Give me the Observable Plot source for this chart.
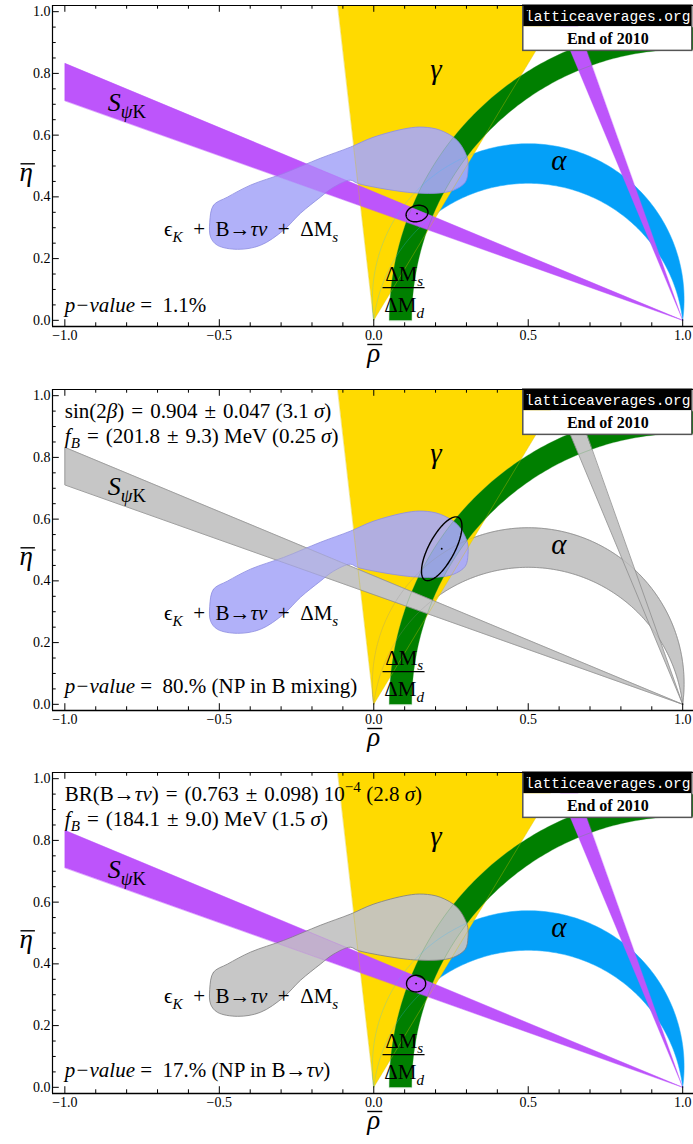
<!DOCTYPE html>
<html>
<head>
<meta charset="utf-8">
<script src="https://cdn.jsdelivr.net/npm/d3@7"></script>
<script src="https://cdn.jsdelivr.net/npm/@observablehq/plot@0.6"></script>
<style>
html,body{margin:0;padding:0;background:#fff;}
#chart svg{display:block;}
</style>
</head>
<body>
<div id="chart"></div>
<script>
// ---------------- data ----------------
const rhoDomain = [-1.04, 1.035];
const etaDomain = [-0.02, 1.02];
const xMajor = [-1, -0.5, 0, 0.5, 1];
const xMajorLabels = ["−1.0", "−0.5", "0.0", "0.5", "1.0"];
const xMinor = [-0.9, -0.8, -0.7, -0.6, -0.4, -0.3, -0.2, -0.1, 0.1, 0.2, 0.3, 0.4, 0.6, 0.7, 0.8, 0.9];
const yMajor = [0, 0.2, 0.4, 0.6, 0.8, 1.0];
const yMajorLabels = ["0.0", "0.2", "0.4", "0.6", "0.8", "1.0"];
const yMinor = [0.05, 0.1, 0.15, 0.25, 0.3, 0.35, 0.45, 0.5, 0.55, 0.65, 0.7, 0.75, 0.85, 0.9, 0.95];

// constraints (angles in degrees, radii in rho-eta units)
const sPsiKBeta = [19.6, 22.6];       // S_psiK band seen from (1,0)
const sPsiKBeta2 = [67.4, 70.4];      // second solution (90° - beta)
const gammaRange = [59.0, 96.5];      // gamma wedge from (0,0)
const rtRange = [0.877, 0.950];       // DeltaMs/DeltaMd circle around (1,0)
const alphaRange = [82.3, 96.8];      // alpha crescent

// epsilon_K + B->tau nu + DeltaMs region (rho, eta)
const blobOutline = [
  [-0.531, 0.318], [-0.519, 0.373], [-0.474, 0.399], [-0.399, 0.438], [-0.292, 0.476],
  [-0.173, 0.525], [-0.076, 0.561], [-0.002, 0.593], [0.108, 0.622], [0.160, 0.626],
  [0.215, 0.616], [0.270, 0.583], [0.302, 0.528], [0.305, 0.486], [0.296, 0.447],
  [0.257, 0.421], [0.205, 0.412], [0.150, 0.412], [0.108, 0.415], [0.021, 0.428],
  [-0.053, 0.444], [-0.076, 0.454], [-0.131, 0.431], [-0.173, 0.399], [-0.237, 0.347],
  [-0.292, 0.292], [-0.367, 0.243], [-0.441, 0.230], [-0.506, 0.243], [-0.528, 0.269]
];

// fit ellipses per panel
const ellipseCenters = [[0.140, 0.346], [0.220, 0.504], [0.137, 0.336]];
const ellipseAxes = [[0.036, 0.026], [0.115, 0.042], [0.031, 0.027]];
const ellipseTilt = [15, 62, 0];

// texts (\u2004 / \u2002 = wider spacing around operators, as in the original)
const infoLines = [
  [],
  ["sin(2*β*)\u2004=\u20040.904\u2004±\u20040.047 (3.1 *σ*)", "*f*_{*B*}\u2004=\u2004(201.8\u2004±\u20049.3) MeV (0.25 *σ*)"],
  ["BR(B→*τν*)\u2004=\u2004(0.763\u2004±\u20040.098) 10^{−4} (2.8 *σ*)", "*f*_{*B*}\u2004=\u2004(184.1\u2004±\u20049.0) MeV (1.5 *σ*)"]
];
const infoEta = [0.950, 0.870];
const pValues = [
  "*p−value* = \u00a01.1%",
  "*p−value* = \u00a080.% (NP in B mixing)",
  "*p−value* = \u00a017.% (NP in B→*τν*)"
];
const pValueEta = [0.048, 0.060, 0.054];
const labelText = ["*S*_{*ψ*K}", "*γ*", "*α*", "ϵ_{*K*}\u2002+\u2002B→*τν*\u2002+\u2002ΔM_{*s*}"];
const labelRho = [-0.861, 0.201, 0.599, -0.397];
const labelEta = [0.705, 0.812, 0.516, 0.294];
const fracText = ["ΔM_{*s*}", "ΔM_{*d*}"];
const fracRho = [0.0985, 0.030, 0.166];
const fracEta = [0.150, 0.106, 0.048];
const boxText = ["latticeaverages.org", "End of 2010"];
const boxRho = [0.484, 1.031];
const boxEta = [0.873, 0.951, 1.02];
const axisLabels = ["~*ρ*~", "~*η*~"];

// ---------------- styles ----------------
const PURPLE = "#bd55fb", BLUE = "#04a0f8", YELLOW = "#ffda00", GREEN = "#007f00";
const LAVENDER = "#a8a8f8", GREY = "#c6c6c6", GREY_EDGE = "#8e8e8e";
const SERIF = "'Liberation Serif','Times New Roman',Times,serif";
const MONO = "'Liberation Mono','Courier New',monospace";
const panelStyles = [
  {s: PURPLE, sEdge: PURPLE, a: BLUE, aEdge: BLUE, w: 0.3, blob: LAVENDER, blobOp: 0.9, blobEdge: "#8d8de0", sOver: 0.42},
  {s: GREY, sEdge: GREY_EDGE, a: GREY, aEdge: GREY_EDGE, w: 0.8, blob: LAVENDER, blobOp: 0.9, blobEdge: "#8d8de0", sOver: 0.35},
  {s: PURPLE, sEdge: PURPLE, a: BLUE, aEdge: BLUE, w: 0.3, blob: "#c4c4c4", blobOp: 0.94, blobEdge: "#7e7e7e", sOver: 0.12}
];
const panelHeights = [383, 384, 377];
const panelTops = [5, 6, 5];

// ---------------- geometry helpers ----------------
const rad = d => d * Math.PI / 180;
function rayPoint(apex, angle, key, value) {
  const dx = Math.cos(rad(angle)), dy = Math.sin(rad(angle));
  const t = key === "rho" ? (value - apex[0]) / dx : (value - apex[1]) / dy;
  return [apex[0] + t * dx, apex[1] + t * dy];
}
function arc(center, r, a0, a1, n = 120) {
  return d3.range(n + 1).map(i => {
    const a = rad(a0 + (a1 - a0) * i / n);
    return [center[0] + r * Math.cos(a), center[1] + r * Math.sin(a)];
  });
}
function alphaArc(alpha, n = 160) {
  const c = 0.5 / Math.tan(rad(alpha)), R = 0.5 / Math.sin(rad(alpha));
  let p0 = Math.atan2(-c, 0.5), p1 = Math.atan2(-c, -0.5);
  if (p1 < p0) p1 += 2 * Math.PI;
  return d3.range(n + 1).map(i => {
    const p = p0 + (p1 - p0) * i / n;
    return [0.5 + R * Math.cos(p), c + R * Math.sin(p)];
  });
}
const apexB = [1, 0], apexO = [0, 0];
const sPoly = [apexB, rayPoint(apexB, 180 - sPsiKBeta[1], "rho", -1), rayPoint(apexB, 180 - sPsiKBeta[0], "rho", -1)];
const sPoly2 = [apexB, rayPoint(apexB, 180 - sPsiKBeta2[0], "eta", etaDomain[1]), rayPoint(apexB, 180 - sPsiKBeta2[1], "eta", etaDomain[1])];
const gammaPoly = [apexO, rayPoint(apexO, gammaRange[0], "eta", etaDomain[1]), rayPoint(apexO, gammaRange[1], "eta", etaDomain[1])];
const rtPoly = arc(apexB, rtRange[1], 180, 86).concat(arc(apexB, rtRange[0], 86, 180));
const alphaPoly = alphaArc(alphaRange[0]).concat(alphaArc(alphaRange[1]).reverse());
function ellipsePoints(p) {
  const [cx, cy] = ellipseCenters[p], [a, b] = ellipseAxes[p], th = rad(ellipseTilt[p]);
  return d3.range(121).map(i => {
    const t = 2 * Math.PI * i / 120;
    return [cx + a * Math.cos(t) * Math.cos(th) - b * Math.sin(t) * Math.sin(th),
            cy + a * Math.cos(t) * Math.sin(th) + b * Math.sin(t) * Math.cos(th)];
  });
}
const poly = (pts, o) => Plot.line(pts, {x: d => d[0], y: d => d[1], curve: "linear-closed", ...o});

// ---------------- rich text (italic / sub / sup / overline) ----------------
const SVGNS = "http://www.w3.org/2000/svg";
function richify(svg) {
  svg.querySelectorAll("text").forEach(t => {
    const s = t.textContent;
    if (!/[*_^~]/.test(s)) return;
    const fs = parseFloat(getComputedStyle(t).fontSize) || 14;
    const runs = [];
    let italic = false, over = false, stack = [0], cur = "";
    const flush = () => { if (cur) runs.push({text: cur, italic, shift: stack[stack.length - 1]}); cur = ""; };
    for (let i = 0; i < s.length; i++) {
      const ch = s[i];
      if (ch === "*") { flush(); italic = !italic; }
      else if (ch === "~") { flush(); over = true; }
      else if ((ch === "_" || ch === "^") && s[i + 1] === "{") { flush(); stack.push(ch === "_" ? -1 : 1); i++; }
      else if (ch === "}" && stack.length > 1) { flush(); stack.pop(); }
      else cur += ch;
    }
    flush();
    t.textContent = "";
    let off = 0;
    runs.forEach(r => {
      const ts = document.createElementNS(SVGNS, "tspan");
      const target = r.shift === -1 ? 0.26 * fs : r.shift === 1 ? -0.42 * fs : 0;
      ts.setAttribute("dy", (target - off).toFixed(2));
      off = target;
      if (r.shift) ts.setAttribute("font-size", (0.72 * fs).toFixed(1));
      if (r.italic) ts.setAttribute("font-style", "italic");
      ts.textContent = r.text;
      t.appendChild(ts);
    });
    if (over) {
      const bb = t.getBBox();
      const m = t.getCTM();
      const yl = bb.y + 0.26 * fs;
      const ln = document.createElementNS(SVGNS, "line");
      ln.setAttribute("x1", (m.e + m.a * (bb.x + 1)).toFixed(1));
      ln.setAttribute("x2", (m.e + m.a * (bb.x + bb.width + 2)).toFixed(1));
      ln.setAttribute("y1", (m.f + m.d * yl).toFixed(1));
      ln.setAttribute("y2", (m.f + m.d * yl).toFixed(1));
      ln.setAttribute("stroke", "black");
      ln.setAttribute("stroke-width", "1.4");
      svg.appendChild(ln);
    }
  });
}

// ---------------- panels ----------------
function makePanel(p) {
  const st = panelStyles[p];
  const H = panelHeights[p], T = panelTops[p];
  const marks = [
    poly(alphaPoly, {fill: st.a, stroke: st.aEdge, strokeWidth: st.w, clip: true}),
    poly(gammaPoly, {fill: YELLOW, clip: true}),
    poly(rtPoly, {fill: GREEN, clip: true}),
    poly(sPoly, {fill: st.s, stroke: st.sEdge, strokeWidth: st.w, clip: true}),
    poly(sPoly2, {fill: st.s, stroke: st.sEdge, strokeWidth: st.w, clip: true}),
    Plot.line(blobOutline, {x: d => d[0], y: d => d[1], curve: "catmull-rom-closed",
      fill: st.blob, fillOpacity: st.blobOp, stroke: st.blobEdge, strokeWidth: 0.8}),
    // S_psiK band showing through the region
    poly(sPoly, {fill: st.s, fillOpacity: st.sOver, stroke: st.sEdge, strokeOpacity: 0.5, strokeWidth: 0.5, clip: true}),
    // faint region edges showing through (as in the original rendering)
    poly(alphaPoly, {stroke: p === 1 ? GREY_EDGE : "#39b6ff", strokeOpacity: 0.45, strokeWidth: 0.6, clip: true}),
    poly(gammaPoly, {stroke: "#d9c200", strokeOpacity: 0.6, strokeWidth: 0.6, clip: true}),
    poly(rtPoly, {stroke: "#4d9d4d", strokeOpacity: 0.5, strokeWidth: 0.6, clip: true}),
    // fit ellipse
    Plot.line(ellipsePoints(p), {x: d => d[0], y: d => d[1], curve: "linear-closed", stroke: "black", strokeWidth: 1.4}),
    Plot.dot([ellipseCenters[p]], {x: d => d[0], y: d => d[1], r: 0.9, fill: "black"}),
    // labels
    Plot.text([labelText[0]], {x: labelRho[0], y: labelEta[0], text: d => d, textAnchor: "start", fontSize: 26}),
    Plot.text([labelText[1]], {x: labelRho[1], y: labelEta[1], text: d => d, fontSize: 29}),
    Plot.text([labelText[2]], {x: labelRho[2], y: labelEta[2], text: d => d, fontSize: 29}),
    Plot.text([labelText[3]], {x: labelRho[3], y: labelEta[3], text: d => d, fontSize: 21}),
    Plot.text([fracText[0]], {x: fracRho[0], y: fracEta[0], text: d => d, fontSize: 21}),
    Plot.ruleY([fracEta[1]], {x1: fracRho[1], x2: fracRho[2], stroke: "black", strokeWidth: 1.1}),
    Plot.text([fracText[1]], {x: fracRho[0], y: fracEta[2], text: d => d, fontSize: 21}),
    Plot.text(infoLines[p], {x: -1, y: (d, i) => infoEta[i], text: d => d, textAnchor: "start", fontSize: 21}),
    Plot.text([pValues[p]], {x: -1, y: pValueEta[p], text: d => d, textAnchor: "start", fontSize: 21}),
    // latticeaverages box
    Plot.rect([0], {x1: boxRho[0], x2: boxRho[1], y1: boxEta[1], y2: boxEta[2], fill: "black"}),
    Plot.rect([0], {x1: boxRho[0], x2: boxRho[1], y1: boxEta[0], y2: boxEta[1], fill: "white"}),
    Plot.rect([0], {x1: boxRho[0], x2: boxRho[1], y1: boxEta[0], y2: boxEta[2], fill: "none", stroke: "#555", strokeWidth: 1.5}),
    Plot.text([boxText[0]], {x: (boxRho[0] + boxRho[1]) / 2, y: (boxEta[1] + boxEta[2]) / 2, text: d => d,
      fill: "white", fontFamily: MONO, fontSize: 14.5}),
    Plot.text([boxText[1]], {x: (boxRho[0] + boxRho[1]) / 2, y: (boxEta[0] + boxEta[1]) / 2, text: d => d,
      fontWeight: "bold", fontSize: 16}),
    // frame lines
    Plot.ruleX([rhoDomain[0]], {stroke: "black", strokeWidth: 1.2}),
    Plot.ruleY([etaDomain[0]], {stroke: "black", strokeWidth: 1.4}),
    Plot.ruleY([etaDomain[1]], {stroke: "black", strokeWidth: 1}),
    // ticks (pointing inward)
    Plot.ruleX(xMajor, {x: d => d, y1: etaDomain[0], y2: etaDomain[0] + 0.022, stroke: "black", strokeWidth: 1}),
    Plot.ruleX(xMinor, {x: d => d, y1: etaDomain[0], y2: etaDomain[0] + 0.012, stroke: "black", strokeWidth: 1}),
    Plot.ruleX(xMajor, {x: d => d, y1: etaDomain[1] - 0.022, y2: etaDomain[1], stroke: "black", strokeWidth: 1}),
    Plot.ruleX(xMinor, {x: d => d, y1: etaDomain[1] - 0.012, y2: etaDomain[1], stroke: "black", strokeWidth: 1}),
    Plot.ruleY(yMajor, {y: d => d, x1: rhoDomain[0], x2: rhoDomain[0] + 0.022, stroke: "black", strokeWidth: 1}),
    Plot.ruleY(yMinor, {y: d => d, x1: rhoDomain[0], x2: rhoDomain[0] + 0.012, stroke: "black", strokeWidth: 1}),
    // tick labels
    Plot.text(xMajor, {x: d => d, y: etaDomain[0], text: (d, i) => xMajorLabels[i], lineAnchor: "top", dy: 4, fontSize: 14}),
    Plot.text(yMajor, {x: rhoDomain[0], y: d => d, text: (d, i) => yMajorLabels[i], textAnchor: "end", dx: -2, fontSize: 14}),
    // axis labels
    Plot.text([axisLabels[0]], {x: 0, frameAnchor: "bottom", dy: 35, text: d => d, fontSize: 27}),
    Plot.text([axisLabels[1]], {y: 0.48, frameAnchor: "left", dx: -33, text: d => d, fontSize: 27})
  ];
  return Plot.plot({
    width: 693, height: H,
    marginLeft: 52, marginRight: 0, marginTop: T, marginBottom: H - T - 321,
    x: {domain: rhoDomain, axis: null},
    y: {domain: etaDomain, axis: null},
    style: {fontFamily: SERIF, background: "white", overflow: "visible", color: "black"},
    marks
  });
}

const chart = document.getElementById("chart");
[0, 1, 2].forEach(p => {
  const svg = makePanel(p);
  chart.appendChild(svg);
  richify(svg);
});
</script>
</body>
</html>
